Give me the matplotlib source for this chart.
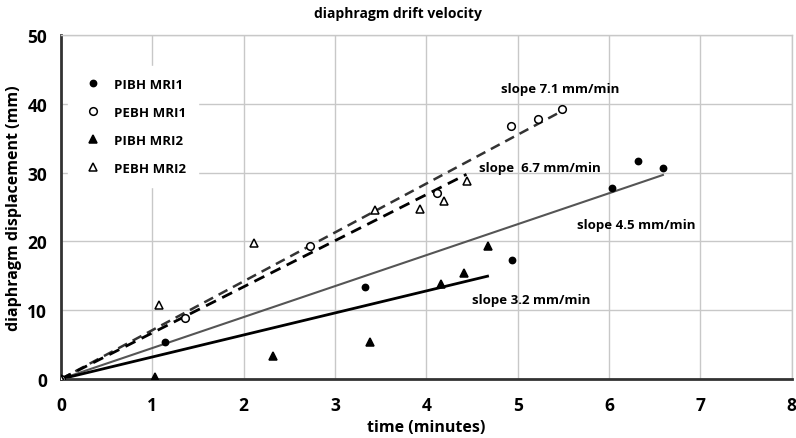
#!/usr/bin/env python3

import numpy as np
import matplotlib.pyplot as plt

plt.rcParams['font.family'] = ['Open Sans', 'DejaVu Sans']
plt.rcParams['font.weight'] = 'bold'

# time (minutes) and displacement (mm) per series
pibh1_t = [0, 1.14, 3.33, 4.94, 6.03, 6.32, 6.59]
pibh1_d = [0, 5.4, 13.4, 17.3, 27.8, 31.7, 30.7]
pebh1_t = [0, 1.36, 2.73, 4.12, 4.93, 5.22, 5.48]
pebh1_d = [0, 8.9, 19.3, 27.0, 36.8, 37.8, 39.3]
pibh2_t = [0, 1.03, 2.32, 3.38, 4.16, 4.41, 4.67]
pibh2_d = [0, 0.3, 3.3, 5.4, 13.8, 15.4, 19.3]
pebh2_t = [0, 1.07, 2.11, 3.44, 3.93, 4.19, 4.44]
pebh2_d = [0, 10.8, 19.8, 24.5, 24.7, 25.9, 28.8]

labels = ["PIBH MRI1", "PEBH MRI1", "PIBH MRI2", "PEBH MRI2"]
slopes = [4.5, 7.1, 3.2, 6.7]
slope_text = ["slope 4.5 mm/min", "slope 7.1 mm/min",
              "slope 3.2 mm/min", "slope  6.7 mm/min"]
text_pos = [(6.3, 22.5), (5.46, 42.2), (5.15, 11.5), (5.24, 30.8)]


def main():
    fig = plt.figure(figsize=(7.96, 4.39), dpi=100)
    ax = fig.add_axes([0.0766, 0.1344, 0.918, 0.7836])

    series = [(pibh1_t, pibh1_d), (pebh1_t, pebh1_d),
              (pibh2_t, pibh2_d), (pebh2_t, pebh2_d)]
    markers = [("o", "black", 4.5), ("o", "white", 5.5),
               ("^", "black", 5.5), ("^", "white", 6)]
    line_styles = [dict(color="#555555", lw=1.5, ls="-"),
                   dict(color="#333333", lw=1.8, ls=(0, (4, 2.5))),
                   dict(color="black", lw=2, ls="-"),
                   dict(color="black", lw=2.0, ls=(0, (4, 2.5)))]

    for (t, d), m, lab, k, st in zip(series, markers, labels, slopes, line_styles):
        tt = np.array([0, max(t)])
        ax.plot(tt, k * tt, zorder=2, **st)
        ax.plot(t, d, linestyle="none", marker=m[0], mfc=m[1], mec="black",
                mew=1.1, ms=m[2], label=lab, zorder=3)

    for txt, (x, y) in zip(slope_text, text_pos):
        ax.text(x, y, txt, ha="center", va="center", fontsize=9.5,
                fontweight="bold")

    ax.set_xlim(0, 8)
    ax.set_ylim(0, 50)
    ax.set_xticks(range(0, 9))
    ax.set_yticks(range(0, 51, 10))
    ax.grid(True, color="#c8c8c8", lw=1)
    ax.set_axisbelow(True)
    for s in ["top", "right"]:
        ax.spines[s].set_color("#c8c8c8")
        ax.spines[s].set_linewidth(1)
    for s in ["left", "bottom"]:
        ax.spines[s].set_color("#333333")
        ax.spines[s].set_linewidth(2)
    ax.tick_params(length=0, labelsize=12.5)
    ax.tick_params(axis="x", pad=12)
    ax.tick_params(axis="y", pad=10)

    ax.set_xlabel("time (minutes)", fontsize=11.5, fontweight="bold", labelpad=4)
    ax.set_ylabel("diaphragm displacement (mm)", fontsize=11.5,
                  fontweight="bold", labelpad=4)
    fig.suptitle("diaphragm drift velocity", fontsize=10, fontweight="bold",
                 x=0.5, y=0.985)

    leg = ax.legend(loc="upper left", bbox_to_anchor=(0.0, 0.93), frameon=True,
                    numpoints=1, labelspacing=1.15, handletextpad=0.6,
                    borderpad=0.9, prop=dict(size=9.5, weight="bold"))
    leg.get_frame().set_facecolor("white")
    leg.get_frame().set_edgecolor("white")
    leg.get_frame().set_alpha(1)

    fig.savefig("out.png", dpi=100)


if __name__ == "__main__":
    main()
